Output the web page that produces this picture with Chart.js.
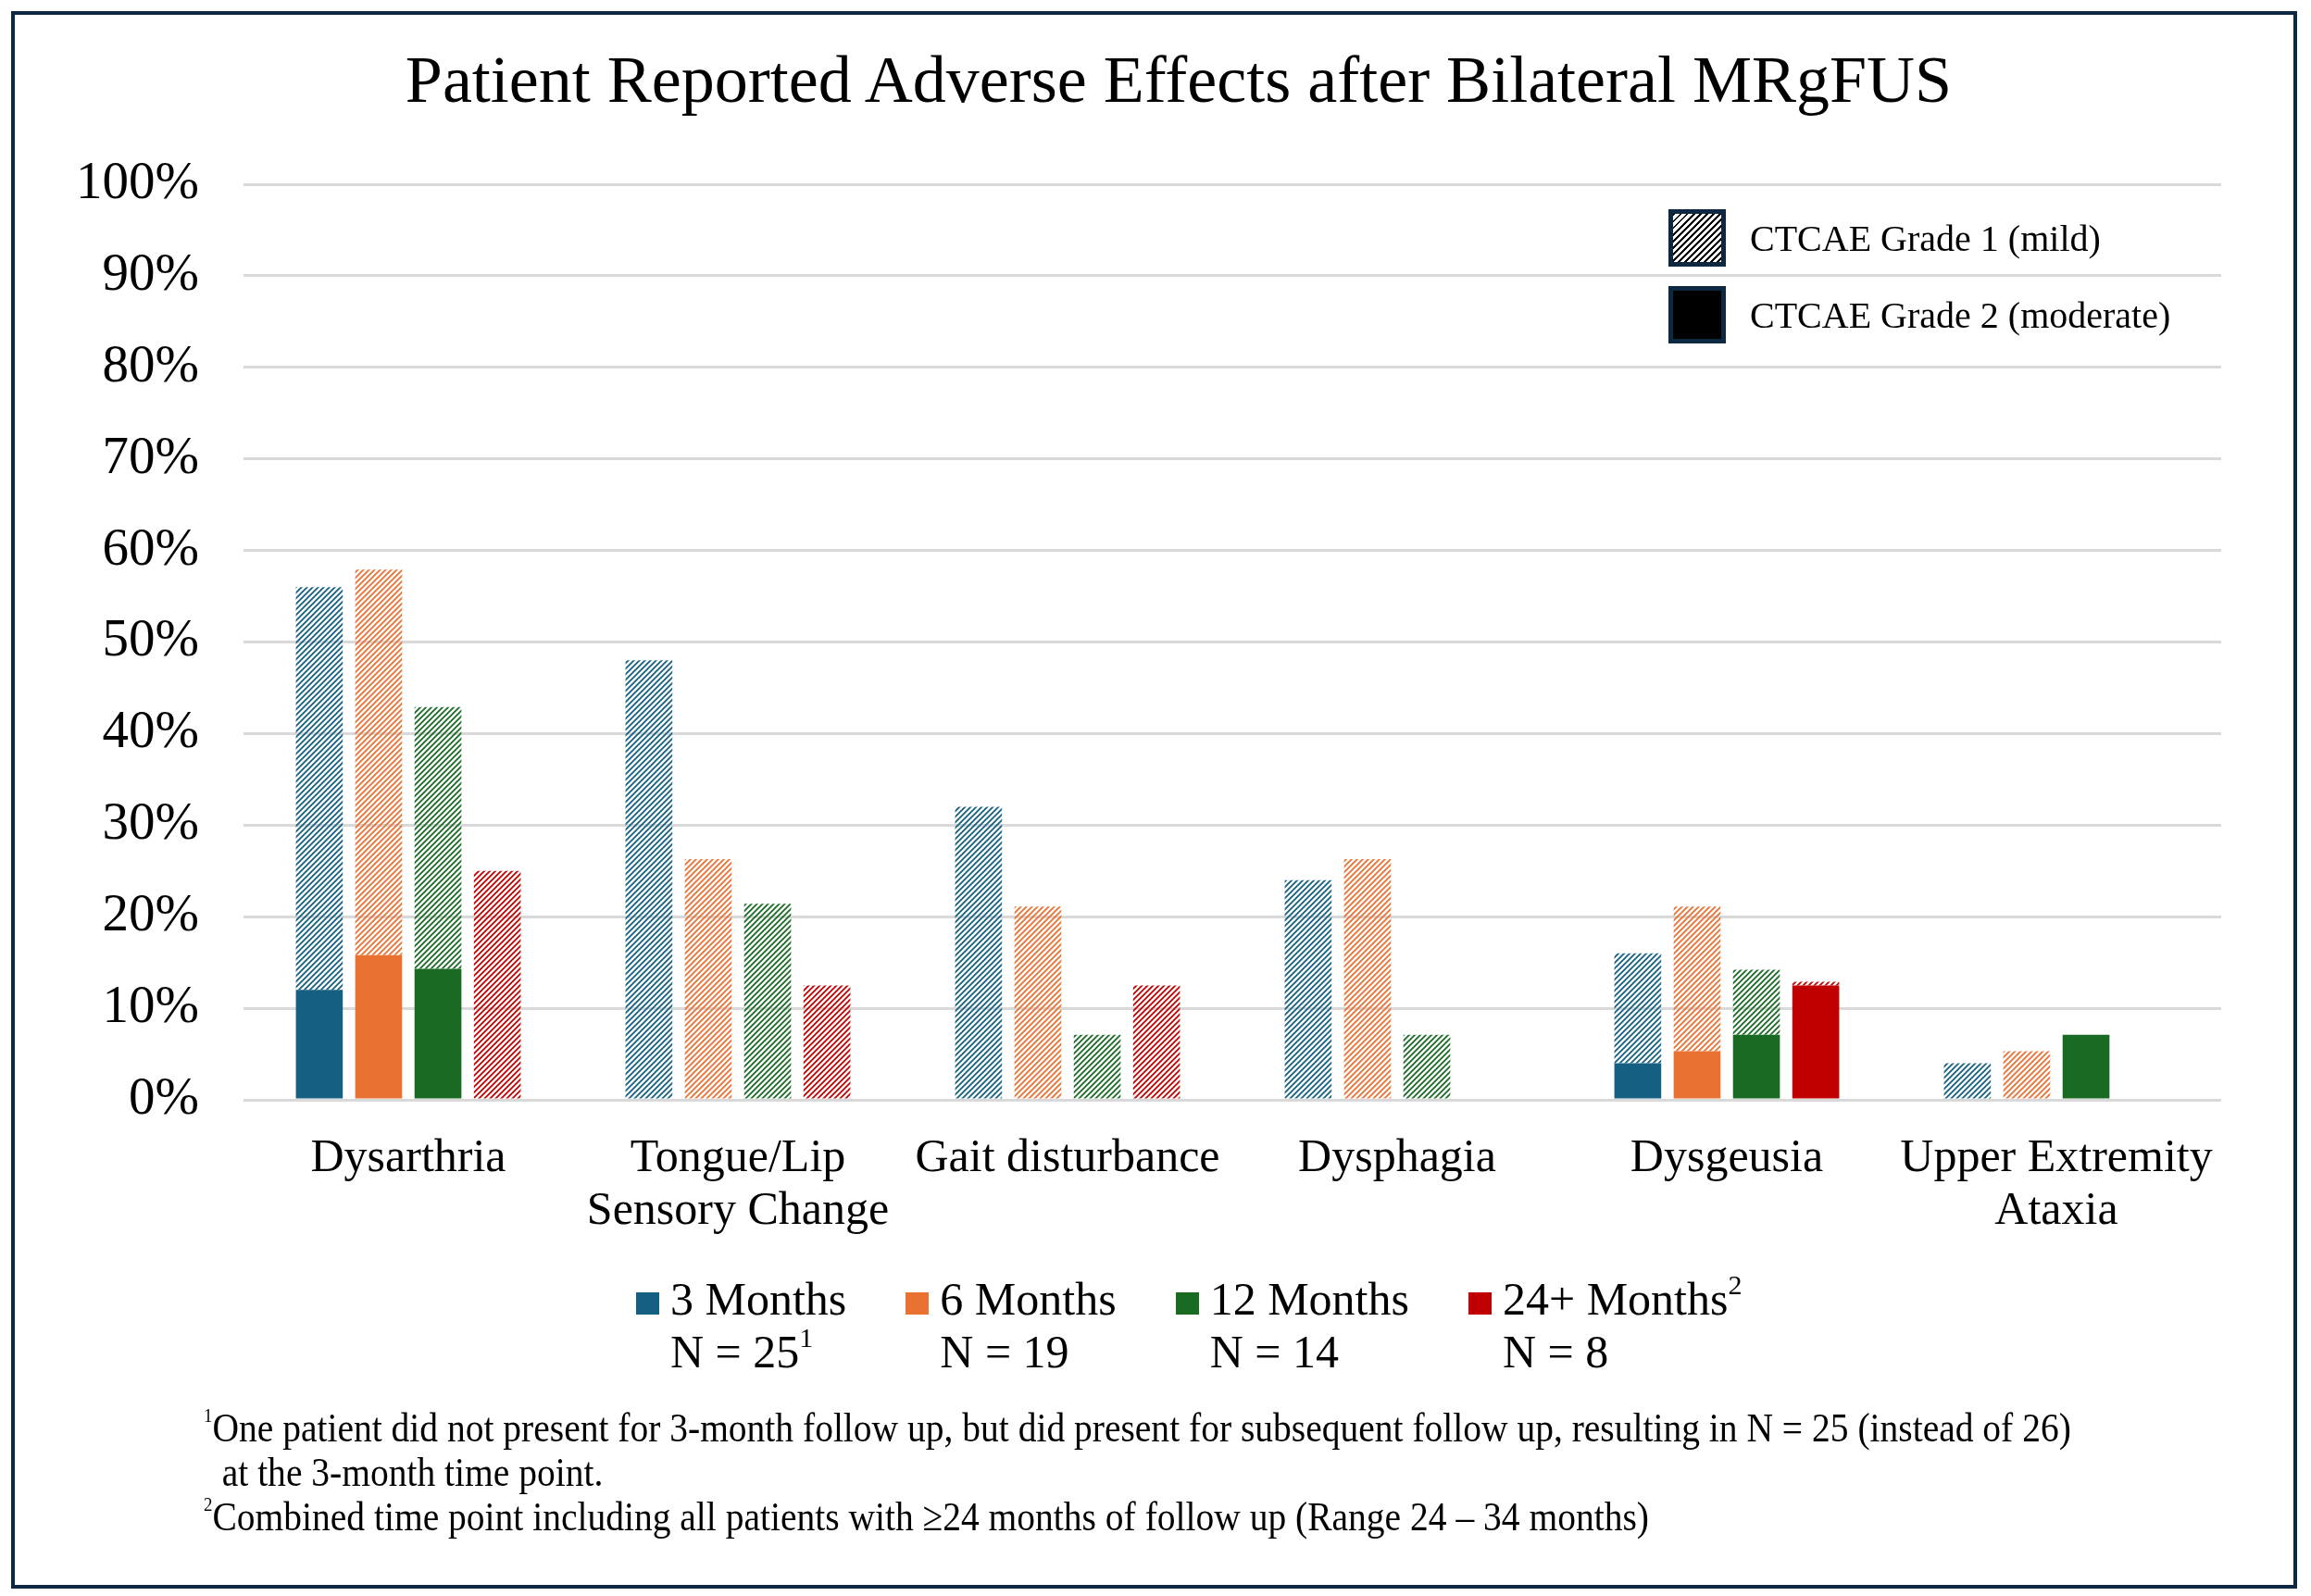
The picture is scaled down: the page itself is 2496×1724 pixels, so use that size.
<!DOCTYPE html>
<html>
<head>
<meta charset="utf-8">
<title>Patient Reported Adverse Effects after Bilateral MRgFUS</title>
<script src="https://cdn.jsdelivr.net/npm/chart.js@4.4.1/dist/chart.umd.min.js"></script>
<style>
  html, body { margin: 0; padding: 0; background: #fff; overflow: hidden; }
  body { width: 2496px; height: 1724px; position: relative; font-family: "Liberation Serif", "Times New Roman", serif; color: #000; }
  #frame { position: absolute; left: 12px; top: 12px; width: 2461px; height: 1696px; border: 4px solid #0E2841; }
  #wrap { position: absolute; left: 0; top: 0; width: 2496px; height: 1724px; }
  #title { position: absolute; left: 1273px; top: 50px; transform: translateX(-50%); font-size: 72px; line-height: 72px; white-space: nowrap; }
  #gradeLegend { position: absolute; left: 1802px; top: 226px; }
  .grade-item { display: flex; align-items: center; height: 62px; margin-bottom: 21px; font-size: 40px; }
  .grade-box { width: 52px; height: 52px; border: 5px solid #0E2841; margin-right: 26px; }
  #seriesLegend { position: absolute; left: 687px; top: 1375px; display: flex; gap: 64px; font-size: 50px; line-height: 57px; }
  .series-item { position: relative; padding-left: 37px; }
  .series-box { position: absolute; left: 0; top: 21px; width: 25px; height: 24px; }
  sup { font-size: 60%; line-height: 0; vertical-align: 0.75em; }
  #notes { position: absolute; left: 220px; top: 0; font-size: 45px; line-height: 45px; white-space: pre; transform: scaleX(0.878); transform-origin: 0 0; }
  #notes div { position: absolute; left: 0; }
  #notes sup { font-size: 48%; vertical-align: 0.95em; }
</style>
</head>
<body>
<div id="wrap"><canvas id="chart"></canvas></div>
<div id="frame"></div>
<div id="title"></div>
<div id="gradeLegend"></div>
<div id="seriesLegend"></div>
<div id="notes"></div>
<script>
// Chart data
const categories = [
    ['Dysarthria'],
    ['Tongue/Lip', 'Sensory Change'],
    ['Gait disturbance'],
    ['Dysphagia'],
    ['Dysgeusia'],
    ['Upper Extremity', 'Ataxia']
];

// percent of patients, grade 2 (solid, bottom) and grade 1 (hatched, on top)
const grade2_3m  = [12, 0, 0, 0, 4, 0];
const grade1_3m  = [44, 48, 32, 24, 12, 4];
const grade2_6m  = [15.8, 0, 0, 0, 5.3, 0];
const grade1_6m  = [42.1, 26.3, 21.1, 26.3, 15.8, 5.3];
const grade2_12m = [14.3, 0, 0, 0, 7.1, 7.1];
const grade1_12m = [28.6, 21.4, 7.1, 7.1, 7.1, 0];
const grade2_24m = [0, 0, 0, 0, 12.5, 0];
const grade1_24m = [25, 12.5, 12.5, 0, 0.4, 0];

const seriesNames = ['3 Months', '6 Months', '12 Months', '24+ Months'];
const seriesNameSup = ['', '', '', '2'];
const seriesN = ['N = 25', 'N = 19', 'N = 14', 'N = 8'];
const seriesNSup = ['1', '', '', ''];
const seriesColors = ['#156082', '#E97132', '#196B24', '#C00000'];

const yTicks = [0, 10, 20, 30, 40, 50, 60, 70, 80, 90, 100];

const titleText = 'Patient Reported Adverse Effects after Bilateral MRgFUS';
const gradeLabels = ['CTCAE Grade 1 (mild)', 'CTCAE Grade 2 (moderate)'];
const footnotes = [
    ['1', 'One patient did not present for 3-month follow up, but did present for subsequent follow up, resulting in N = 25 (instead of 26)'],
    ['', '  at the 3-month time point.'],
    ['2', 'Combined time point including all patients with \u226524 months of follow up (Range 24 \u2013 34 months)']
];
const footnoteTops = [1520, 1568, 1616];

const FONT = '"Liberation Serif", "Times New Roman", serif';

// diagonal hatch fill for grade 1
function makeHatch(color) {
    const c = document.createElement('canvas');
    c.width = 6;
    c.height = 6;
    const g = c.getContext('2d');
    g.strokeStyle = color;
    g.lineWidth = 1.8;
    g.beginPath();
    g.moveTo(0, 6); g.lineTo(6, 0);
    g.moveTo(-3, 3); g.lineTo(3, -3);
    g.moveTo(3, 9); g.lineTo(9, 3);
    g.stroke();
    return g.createPattern(c, 'repeat');
}

const grade2Data = [grade2_3m, grade2_6m, grade2_12m, grade2_24m];
const grade1Data = [grade1_3m, grade1_6m, grade1_12m, grade1_24m];
const datasets = [];
seriesNames.forEach((name, i) => {
    datasets.push({
        label: name + ' grade 2',
        data: grade2Data[i],
        backgroundColor: seriesColors[i],
        stack: 's' + i,
        borderWidth: 0
    });
    datasets.push({
        label: name + ' grade 1',
        data: grade1Data[i],
        backgroundColor: makeHatch(seriesColors[i]),
        stack: 's' + i,
        borderWidth: 0
    });
});

new Chart(document.getElementById('chart'), {
    type: 'bar',
    data: {
        labels: categories,
        datasets: datasets
    },
    options: {
        responsive: true,
        maintainAspectRatio: false,
        animation: false,
        devicePixelRatio: 1,
        categoryPercentage: 0.72,
        barPercentage: 0.79,
        layout: {
            padding: { left: 20, right: 97, top: 199, bottom: 336 }
        },
        plugins: {
            legend: { display: false },
            tooltip: { enabled: false },
            title: { display: false }
        },
        scales: {
            x: {
                stacked: true,
                grid: { display: false },
                border: { display: false },
                ticks: {
                    color: '#000',
                    font: { family: FONT, size: 50, lineHeight: 1.14 },
                    padding: 27,
                    maxRotation: 0,
                    autoSkip: false
                },
                afterFit: function(scale) {
                    scale.height = 200;
                }
            },
            y: {
                stacked: true,
                min: yTicks[0],
                max: yTicks[yTicks.length - 1],
                afterBuildTicks: function(scale) {
                    scale.ticks = yTicks.map(v => ({ value: v }));
                },
                ticks: {
                    color: '#000',
                    font: { family: FONT, size: 57 },
                    padding: 48,
                    callback: function(value) {
                        return value + '%';
                    }
                },
                grid: { color: '#D9D9D9', lineWidth: 3, drawTicks: false },
                border: { display: false },
                afterFit: function(scale) {
                    scale.width = 243;
                }
            }
        }
    }
});

// Title
document.getElementById('title').textContent = titleText;

// Grade legend (top right)
const gradeLegend = document.getElementById('gradeLegend');
gradeLabels.forEach((text, i) => {
    const item = document.createElement('div');
    item.className = 'grade-item';
    const box = document.createElement('div');
    box.className = 'grade-box';
    box.style.background = i === 0
        ? 'repeating-linear-gradient(135deg, #000 0 2px, #fff 2px 5px)'
        : '#000';
    const label = document.createElement('span');
    label.textContent = text;
    item.appendChild(box);
    item.appendChild(label);
    gradeLegend.appendChild(item);
});

// Series legend (bottom)
const seriesLegend = document.getElementById('seriesLegend');
seriesNames.forEach((name, i) => {
    const item = document.createElement('div');
    item.className = 'series-item';
    const box = document.createElement('div');
    box.className = 'series-box';
    box.style.background = seriesColors[i];
    item.appendChild(box);
    const line1 = document.createElement('div');
    line1.innerHTML = name + (seriesNameSup[i] ? '<sup>' + seriesNameSup[i] + '</sup>' : '');
    const line2 = document.createElement('div');
    line2.innerHTML = seriesN[i] + (seriesNSup[i] ? '<sup>' + seriesNSup[i] + '</sup>' : '');
    item.appendChild(line1);
    item.appendChild(line2);
    seriesLegend.appendChild(item);
});

// Footnotes
const notes = document.getElementById('notes');
footnotes.forEach((note, i) => {
    const line = document.createElement('div');
    line.style.top = footnoteTops[i] + 'px';
    if (note[0]) {
        const s = document.createElement('sup');
        s.textContent = note[0];
        line.appendChild(s);
    }
    line.appendChild(document.createTextNode(note[1]));
    notes.appendChild(line);
});
</script>
</body>
</html>
